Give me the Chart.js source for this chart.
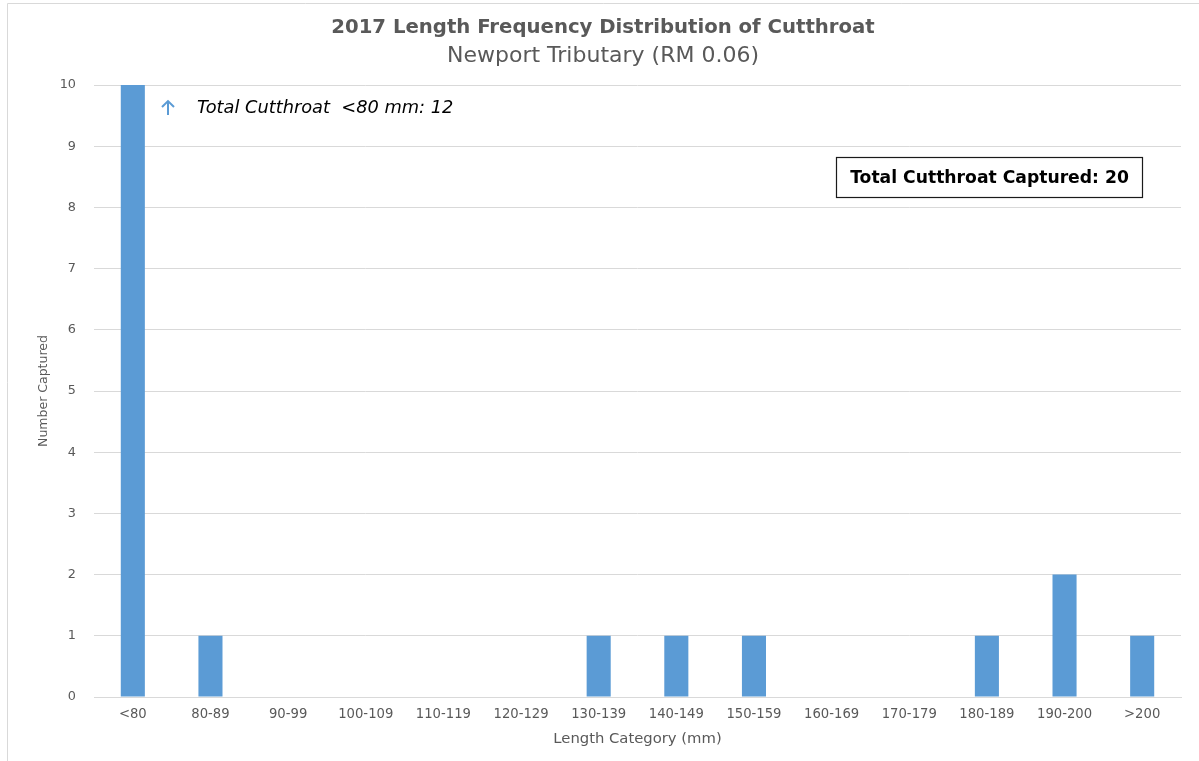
<!DOCTYPE html>
<html>
<head>
<meta charset="utf-8">
<script src="https://cdn.jsdelivr.net/npm/chart.js@4.4.1/dist/chart.umd.min.js"></script>
<style>
  html, body { margin: 0; padding: 0; background: #ffffff; }
  #wrap { position: relative; width: 1199px; height: 761px; }
  canvas { display: block; }
</style>
</head>
<body>
<div id="wrap"><canvas id="c" width="1199" height="761"></canvas></div>
<script>
// Length categories (mm) and the number of cutthroat captured in each
const categories = ['<80', '80-89', '90-99', '100-109', '110-119', '120-129', '130-139',
  '140-149', '150-159', '160-169', '170-179', '180-189', '190-200', '>200'];
const captured = [12, 1, 0, 0, 0, 0, 1, 1, 1, 0, 0, 1, 2, 1];
const yTicks = [0, 1, 2, 3, 4, 5, 6, 7, 8, 9, 10];
const totalCaptured = captured.reduce((a, b) => a + b, 0);
const under80 = captured[0];

const FONT = "'DejaVu Sans', 'Liberation Sans', sans-serif";
const GREY = '#595959';
const BAR = '#5b9bd5';

// Frame lines, the off-scale note for the first bar, and the total box
const notes = {
  id: 'notes',
  beforeDraw(chart) {
    const ctx = chart.ctx;
    ctx.save();
    ctx.strokeStyle = '#d9d9d9';
    ctx.lineWidth = 1;
    ctx.beginPath();
    ctx.moveTo(7.5, 761);
    ctx.lineTo(7.5, 3.5);
    ctx.lineTo(1199, 3.5);
    ctx.stroke();
    ctx.restore();
  },
  afterDraw(chart) {
    const ctx = chart.ctx;
    const area = chart.chartArea;
    ctx.save();
    // up arrow beside the clipped first bar
    const ax = area.left + 74, ay = area.top + 16;
    ctx.strokeStyle = BAR;
    ctx.lineWidth = 2;
    ctx.lineCap = 'butt';
    ctx.beginPath();
    ctx.moveTo(ax, ay + 1);
    ctx.lineTo(ax, ay + 14);
    ctx.moveTo(ax - 6, ay + 6);
    ctx.lineTo(ax, ay);
    ctx.lineTo(ax + 6, ay + 6);
    ctx.stroke();

    ctx.fillStyle = '#000000';
    ctx.font = "oblique 17.8px " + FONT;
    ctx.textAlign = 'left';
    ctx.textBaseline = 'middle';
    ctx.fillText('Total Cutthroat  <80 mm: ' + under80, area.left + 103, area.top + 23);

    // boxed total
    const bx = 836.5, by = 157.5, bw = 306, bh = 40;
    ctx.strokeStyle = '#1a1a1a';
    ctx.lineWidth = 1.2;
    ctx.strokeRect(bx, by, bw, bh);
    ctx.font = "bold 17.2px " + FONT;
    ctx.textAlign = 'center';
    ctx.fillText('Total Cutthroat Captured: ' + totalCaptured, bx + bw / 2, by + bh / 2 + 1);
    ctx.restore();
  }
};

new Chart(document.getElementById('c'), {
  type: 'bar',
  data: {
    labels: categories,
    datasets: [{
      label: 'Number Captured',
      data: captured,
      backgroundColor: BAR,
      borderWidth: 0,
      barPercentage: 0.31,
      categoryPercentage: 1.0
    }]
  },
  options: {
    responsive: false,
    animation: false,
    devicePixelRatio: 1,
    layout: { padding: { left: 25, right: 18, top: 0, bottom: 0 } },
    plugins: {
      legend: { display: false },
      tooltip: { enabled: false },
      title: {
        display: true,
        text: '2017 Length Frequency Distribution of Cutthroat',
        color: GREY,
        font: { family: FONT, size: 19.7, weight: 'bold', lineHeight: 1.2 },
        padding: { top: 16, bottom: 3 }
      },
      subtitle: {
        display: true,
        text: 'Newport Tributary (RM 0.06)',
        color: GREY,
        font: { family: FONT, size: 22, weight: 'normal', lineHeight: 1.2 },
        padding: { top: 0, bottom: 16 }
      }
    },
    scales: {
      x: {
        grid: { display: false, drawTicks: false },
        border: { display: true, color: '#d9d9d9' },
        ticks: {
          color: GREY,
          font: { family: FONT, size: 13.2 },
          padding: 10,
          maxRotation: 0,
          autoSkip: false
        },
        title: {
          display: true,
          text: 'Length Category (mm)',
          color: GREY,
          font: { family: FONT, size: 14.8, lineHeight: 1.2 },
          padding: { top: 0, bottom: 13 }
        },
        afterFit(scale) { scale.height = 64; }
      },
      y: {
        min: 0,
        max: 10,
        afterBuildTicks(scale) { scale.ticks = yTicks.map(v => ({ value: v })); },
        grid: { color: '#d9d9d9', drawTicks: false },
        border: { display: false },
        ticks: {
          color: GREY,
          font: { family: FONT, size: 12.8 },
          padding: 18
        },
        title: {
          display: true,
          text: 'Number Captured',
          color: GREY,
          font: { family: FONT, size: 12.5, lineHeight: 1.2 },
          padding: { top: 11, bottom: 0 }
        },
        afterFit(scale) { scale.width = 69; }
      }
    }
  },
  plugins: [notes]
});
</script>
</body>
</html>
